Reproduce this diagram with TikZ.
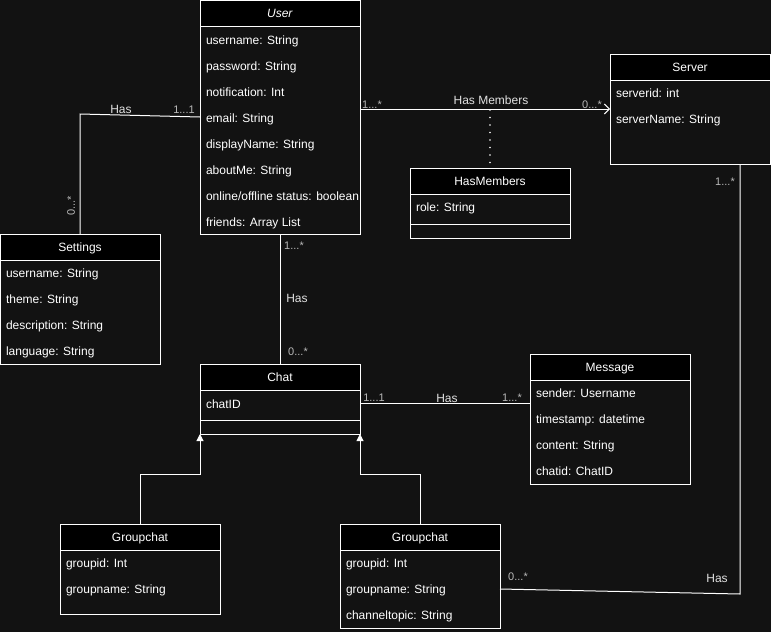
\documentclass[tikz,border=0pt]{standalone}
\usepackage{fontspec}
\setmainfont{Liberation Sans}
\usetikzlibrary{arrows.meta,calc}
\definecolor{bg}{RGB}{18,18,18}
\definecolor{mult}{RGB}{185,185,185}
\definecolor{lab}{RGB}{225,225,225}

\begin{document}
\begin{tikzpicture}[x=1pt,y=-1pt,
  every node/.style={font=\fontsize{12}{14}\selectfont, text=white, inner sep=0pt, outer sep=0pt, text height=10.5pt, text depth=1pt},
  hdr/.style={draw=white, fill=black, line width=1pt, minimum width=160pt, minimum height=26pt, anchor=north west},
  body/.style={draw=white, fill=bg, line width=1pt, minimum width=160pt, anchor=north west},
  attr/.style={anchor=west},
  mlbl/.style={font=\fontsize{11}{13}\selectfont, text=mult},
  hlbl/.style={font=\fontsize{12}{14}\selectfont, text=lab},
  conn/.style={draw=white, line width=1pt},
  sep/.style={draw=white, line width=1pt}]
\useasboundingbox (0,0) rectangle (771,632);
\fill[bg] (0,0) rectangle (771,632);

% ---------- User ----------
\node[hdr] (user) at (200,0) {\textit{User}};
\node[body, minimum height=208pt] (userb) at (user.south west) {};
\node[attr] (u1) at (206,40) {username: String};
\node[attr] (u2) at (206,66) {password: String};
\node[attr] (u3) at (206,92) {notification: Int};
\node[attr] (u4) at (206,118) {email: String};
\node[attr] (u5) at (206,144) {displayName: String};
\node[attr] (u6) at (206,170) {aboutMe: String};
\node[attr] (u7) at (206,196) {online/offline status: boolean};
\node[attr] (u8) at (206,222) {friends: Array List};

% ---------- Settings ----------
\node[hdr] (settings) at (0,234) {Settings};
\node[body, minimum height=104pt] (settingsb) at (settings.south west) {};
\node[attr] (s1) at (6,273) {username: String};
\node[attr] (s2) at (6,299) {theme: String};
\node[attr] (s3) at (6,325) {description: String};
\node[attr] (s4) at (6,351) {language: String};

% ---------- Server ----------
\node[hdr] (server) at (610,54) {Server};
\node[body, minimum height=84pt] (serverb) at (server.south west) {};
\node[attr] (sv1) at (616,93) {serverid: int};
\node[attr] (sv2) at (616,119) {serverName: String};

% ---------- HasMembers ----------
\node[hdr] (hasm) at (410,168) {HasMembers};
\node[body, minimum height=44pt] (hasmb) at (hasm.south west) {};
\node[attr] (hm1) at (416,207) {role: String};
\draw[sep] (hasmb.west |- 0,224) -- (hasmb.east |- 0,224);

% ---------- Chat ----------
\node[hdr] (chat) at (200,364) {Chat};
\node[body, minimum height=44pt] (chatb) at (chat.south west) {};
\node[attr] (c1) at (206,404) {chatID};
\draw[sep] (chatb.west |- 0,420) -- (chatb.east |- 0,420);

% ---------- Message ----------
\node[hdr] (msg) at (530,354) {Message};
\node[body, minimum height=104pt] (msgb) at (msg.south west) {};
\node[attr] (m1) at (536,393) {sender: Username};
\node[attr] (m2) at (536,419) {timestamp: datetime};
\node[attr] (m3) at (536,445) {content: String};
\node[attr] (m4) at (536,471) {chatid: ChatID};

% ---------- Groupchat (left) ----------
\node[hdr] (gc1) at (60,524) {Groupchat};
\node[body, minimum height=64pt] (gc1b) at (gc1.south west) {};
\node[attr] (g11) at (66,563) {groupid: Int};
\node[attr] (g12) at (66,589) {groupname: String};

% ---------- Groupchat (right) ----------
\node[hdr] (gc2) at (340,524) {Groupchat};
\node[body, minimum height=78pt] (gc2b) at (gc2.south west) {};
\node[attr] (g21) at (346,563) {groupid: Int};
\node[attr] (g22) at (346,589) {groupname: String};
\node[attr] (g23) at (346,615) {channeltopic: String};

% ---------- User -- Settings ----------
\coordinate (usbend) at (80,114);
\draw[conn] (userb.west |- 0,117) -- (usbend) -- (settings.north);
\node[hlbl] (l1) at (121,109) {Has};
\node[mlbl] (l2) at (184,109) {1...1};
\node[mlbl, rotate=90] (l3) at (70,206) {0...*};

% ---------- User -- Server ----------
\draw[conn, -{Straight Barb[length=5pt,width=10pt]}] (userb.east |- 0,109) -- (serverb.west |- 0,109);
\coordinate (hmtop) at (490,110);
\draw[white, line width=1.6pt, line cap=round, dash pattern=on 0pt off 7.5pt] (hmtop) -- (hasm.north);
\node[mlbl] (l4) at (372,104) {1...*};
\node[hlbl] (l5) at (491,100) {Has Members};
\node[mlbl] (l6) at (592,104) {0...*};

% ---------- Server -- Groupchat ----------
\coordinate (svbend) at (740,594);
\draw[conn] (serverb.south -| 740,0) -- (svbend) -- (gc2b.east |- 0,589);
\node[mlbl] (l7) at (725,181) {1...*};
\node[hlbl] (l8) at (717,578) {Has};
\node[mlbl] (l9) at (518,576) {0...*};

% ---------- User -- Chat ----------
\draw[conn] (userb.south) -- (chat.north);
\node[mlbl] (l10) at (294,245) {1...*};
\node[hlbl] (l11) at (297,298) {Has};
\node[mlbl] (l12) at (298,351) {0...*};

% ---------- Chat -- Message ----------
\draw[conn] (chatb.east |- 0,403) -- (msgb.west |- 0,403);
\node[mlbl] (l13) at (374,397) {1...1};
\node[hlbl] (l14) at (447,398) {Has};
\node[mlbl] (l15) at (512,397) {1...*};

% ---------- Generalisation ----------
\draw[conn, -{Triangle[length=7pt,width=7pt,fill=white]}] (gc1.north) |- ($(chatb.south west)+(0,40)$) -- (chatb.south west);
\draw[conn, -{Triangle[length=7pt,width=7pt,fill=white]}] (gc2.north) |- ($(chatb.south east)+(0,40)$) -- (chatb.south east);
\end{tikzpicture}
\end{document}
